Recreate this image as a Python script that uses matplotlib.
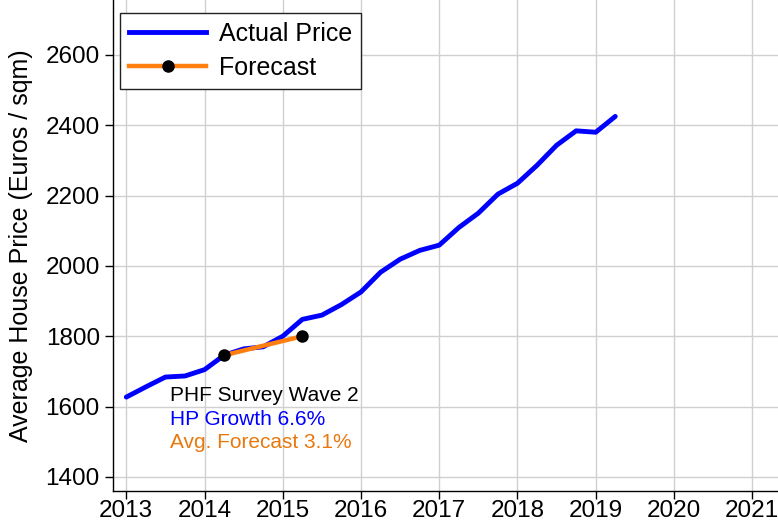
import matplotlib
matplotlib.use("Agg")
import matplotlib.pyplot as plt
from matplotlib.lines import Line2D

plt.rcParams['font.family'] = ['Liberation Sans', 'DejaVu Sans']

# Quarterly data
dates = [2013.0, 2013.25, 2013.5, 2013.75, 2014.0, 2014.25, 2014.5, 2014.75,
         2015.0, 2015.25, 2015.5, 2015.75, 2016.0, 2016.25, 2016.5, 2016.75,
         2017.0, 2017.25, 2017.5, 2017.75, 2018.0, 2018.25, 2018.5, 2018.75,
         2019.0, 2019.25]
actual_price = [1627, 1656, 1684, 1687, 1705, 1746, 1764, 1770,
                1800, 1848, 1860, 1890, 1926, 1982, 2019, 2044,
                2059, 2109, 2150, 2204, 2235, 2286, 2343, 2384,
                2380, 2425]
forecast_dates = [2014.25, 2015.25]
forecast_values = [1746, 1800]
x_ticks = [2013, 2014, 2015, 2016, 2017, 2018, 2019, 2020, 2021]
y_ticks = [1400, 1600, 1800, 2000, 2200, 2400, 2600]
annot_lines = ["PHF Survey Wave 2", "HP Growth 6.6%", "Avg. Forecast 3.1%"]

fig = plt.figure(figsize=(7.78, 5.25), dpi=100)
ax = fig.add_axes([113/778, (525-491)/525, (778-113)/778, 491/525])

ax.plot(dates, actual_price, color='#0000ff', lw=3.5, solid_capstyle='round', zorder=3)
ax.plot(forecast_dates, forecast_values, color='#ff7f0e', lw=3.2, zorder=4)
ax.plot(forecast_dates, forecast_values, 'o', color='black', ms=8, zorder=5)

ax.set_xlim(2012.83, 2021.33)
ax.set_ylim(1360, 2756)
ax.set_xticks(x_ticks)
ax.set_yticks(y_ticks)
ax.tick_params(labelsize=17.5, direction='out', length=6, width=1, colors='black')
ax.tick_params(axis='x', pad=0.8)
ax.tick_params(axis='y', pad=3.5)
ax.grid(True, color='#d0d0d0', lw=1)
ax.set_axisbelow(True)
for s in ['top', 'right']:
    ax.spines[s].set_visible(False)
for s in ['left', 'bottom']:
    ax.spines[s].set_linewidth(1)
ax.set_ylabel("Average House Price (Euros / sqm)", fontsize=18)
ax.yaxis.set_label_coords(-0.1203, 0.5)

colors = ['black', '#0000ff', '#e8790f']
y0 = 1617
for i, (t, c) in enumerate(zip(annot_lines, colors)):
    ax.text(2013.56, y0 - i * 68, t, color=c, fontsize=15, va='baseline', ha='left')

handles = [Line2D([], [], color='#0000ff', lw=3.5),
           Line2D([], [], color='#ff7f0e', lw=3.2, marker='o', markerfacecolor='black',
                  markeredgecolor='black', ms=8)]
leg = ax.legend(handles, ["Actual Price", "Forecast"], loc='upper left',
                bbox_to_anchor=(0.0105, 0.9735), borderaxespad=0, fontsize=18,
                fancybox=False, edgecolor='#222222', framealpha=1,
                handlelength=3.1, handletextpad=0.5, borderpad=0.36,
                labelspacing=0.4)
leg.get_frame().set_linewidth(1)

fig.savefig("out.png", dpi=100)
